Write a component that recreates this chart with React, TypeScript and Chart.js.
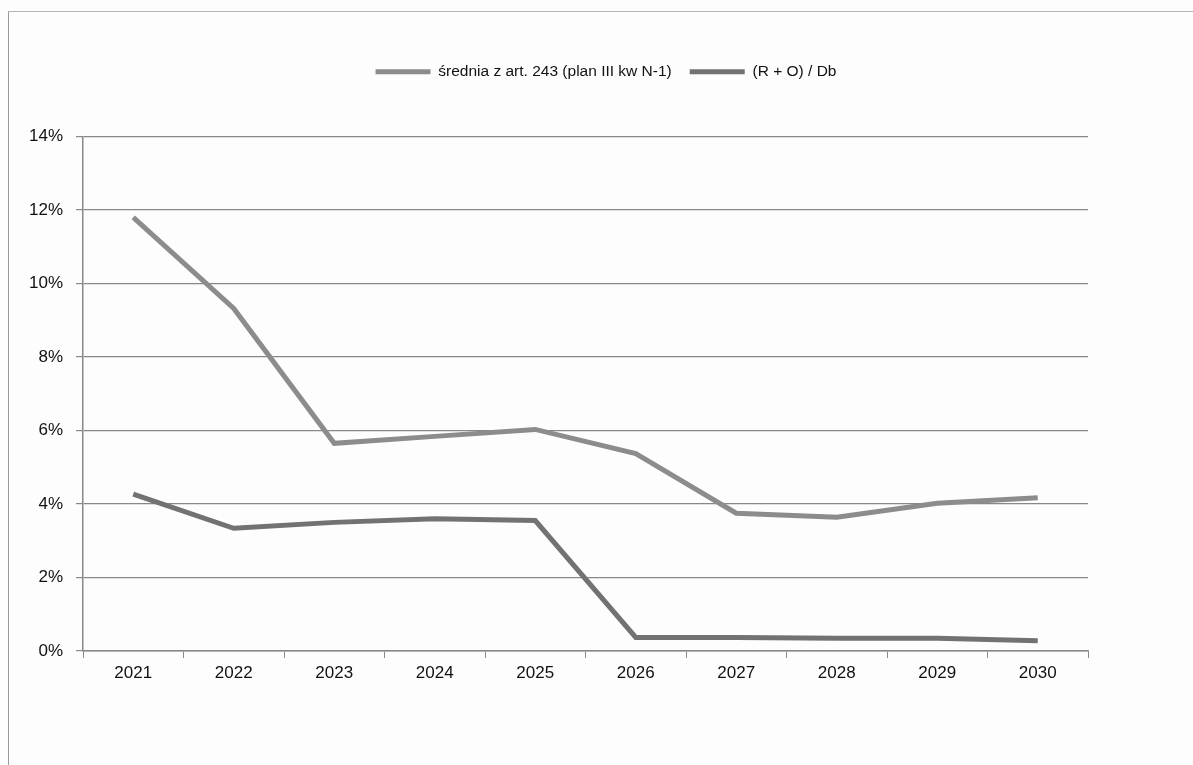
import React, { useEffect, useRef } from "react";
import { Chart, registerables } from "chart.js";

Chart.register(...registerables);

const years = ["2021", "2022", "2023", "2024", "2025", "2026", "2027", "2028", "2029", "2030"];
const avg243 = [11.8, 9.32, 5.65, 5.84, 6.03, 5.37, 3.75, 3.64, 4.02, 4.17];
const ratioRODb = [4.27, 3.34, 3.5, 3.6, 3.55, 0.37, 0.37, 0.35, 0.35, 0.28];
const yTicks = [0, 2, 4, 6, 8, 10, 12, 14];
const seriesNames = ["średnia z art. 243 (plan III kw N-1)", "(R + O) / Db"];

const FONT = "'Liberation Sans', Arial, sans-serif";

export default function App() {
  const ref = useRef<HTMLCanvasElement | null>(null);

  useEffect(() => {
    if (!ref.current) return;
    const legendExtra = {
      id: "legendExtra",
      afterInit(chart: any) {
        const lg = chart.legend;
        if (lg && !lg.__patched) {
          const fit = lg.fit;
          lg.fit = function () {
            fit.call(this);
            this.height += 47;
          };
          lg.__patched = true;
        }
      },
      beforeDraw(chart: any) {
        const lg = chart.legend;
        if (lg && !lg.__shifted) {
          lg.left += 62;
          lg.right += 62;
          lg.__shifted = true;
        }
      },
    };
    const chart = new Chart(ref.current, {
      type: "line",
      data: {
        labels: years,
        datasets: [
          {
            label: seriesNames[0],
            data: avg243,
            borderColor: "#8c8c8c",
            backgroundColor: "#8c8c8c",
            borderWidth: 5,
            pointRadius: 0,
            tension: 0,
          },
          {
            label: seriesNames[1],
            data: ratioRODb,
            borderColor: "#727272",
            backgroundColor: "#727272",
            borderWidth: 5,
            pointRadius: 0,
            tension: 0,
          },
        ],
      },
      options: {
        responsive: false,
        animation: false,
        layout: { padding: { top: 46, right: 105, bottom: 74, left: 0 } },
        plugins: {
          tooltip: { enabled: false },
          legend: {
            labels: {
              boxWidth: 55,
              boxHeight: 5,
              padding: 18,
              color: "#111",
              font: { family: FONT, size: 15.5 },
              generateLabels: (c: any) =>
                c.data.datasets.map((d: any, i: number) => ({
                  text: d.label,
                  fillStyle: d.borderColor,
                  strokeStyle: d.borderColor,
                  lineWidth: 0,
                  fontColor: "#111",
                  hidden: false,
                  datasetIndex: i,
                })),
            },
          },
        },
        scales: {
          x: {
            offset: true,
            grid: { offset: true, drawOnChartArea: false, drawTicks: true, tickLength: 7, color: "#888" },
            border: { color: "#888", width: 1.5 },
            ticks: { color: "#111", font: { family: FONT, size: 17 }, padding: 5, maxRotation: 0 },
            afterFit: (s: any) => {
              s.height = 40;
            },
          },
          y: {
            min: 0,
            max: 14,
            afterBuildTicks: (s: any) => {
              s.ticks = yTicks.map((v) => ({ value: v }));
            },
            ticks: { color: "#111", font: { family: FONT, size: 17 }, padding: 13, callback: (v: any) => v + "%" },
            grid: { color: "#888", tickLength: 7, lineWidth: 1.2 },
            border: { color: "#888", width: 1.5 },
            afterFit: (s: any) => {
              s.width = 83;
            },
          },
        },
      },
      plugins: [legendExtra],
    });
    return () => chart.destroy();
  }, []);

  return (
    <div style={{ position: "absolute", left: 0, top: 0, width: 1193, height: 765, background: "#fdfdfd" }}>
      <div
        style={{
          position: "absolute",
          left: 8,
          top: 11,
          right: 0,
          bottom: 0,
          borderLeft: "1.5px solid #9a9a9a",
          borderTop: "1px solid #b5b5b5",
        }}
      />
      <canvas ref={ref} width={1193} height={765} style={{ position: "absolute", left: 0, top: 0 }} />
    </div>
  );
}
